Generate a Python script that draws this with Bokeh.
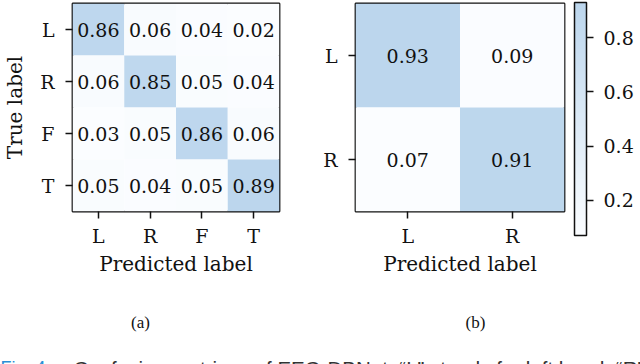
import numpy as np
from bokeh.plotting import figure
from bokeh.models import (FactorRange, Range1d, LinearColorMapper, ColumnDataSource,
                          FixedTicker, Label, ColorBar)
from bokeh.layouts import row, column
from bokeh.core.properties import value
from bokeh.embed import file_html
from bokeh.resources import INLINE

# ---------------- data ----------------
classes_a = ["L", "R", "F", "T"]
matrix_a = [
    [0.86, 0.06, 0.04, 0.02],
    [0.06, 0.85, 0.05, 0.04],
    [0.03, 0.05, 0.86, 0.06],
    [0.05, 0.04, 0.05, 0.89],
]
classes_b = ["L", "R"]
matrix_b = [
    [0.93, 0.09],
    [0.07, 0.91],
]
cbar_ticks = [0.2, 0.4, 0.6, 0.8]
sub_captions = ["(a)", "(b)"]
x_label = "Predicted label"
y_label = "True label"
fig_caption_label = "Fig. 4."
fig_caption_text = "Confusion matrices of EEG-DBNet: \u201cL\u201d stands for left hand, \u201cR\u201d"

# ---------------- style ----------------
SERIF = "DejaVu Serif"
INK = "#111111"
lo = np.array([251, 253, 255])
hi = np.array([188, 214, 237])
palette = ["#%02x%02x%02x" % tuple(int(round(c)) for c in lo + (hi - lo) * t)
           for t in np.linspace(0, 1, 256)]

W_TOTAL, H_TOTAL = 640, 364
H = 290
TOP = 3
FRAME = 208


def style_axes(p):
    for ax in p.axis:
        ax.axis_line_color = None
        ax.major_tick_in = 0
        ax.major_tick_out = 7
        ax.major_tick_line_width = 1.5
        ax.major_tick_line_color = INK
        ax.minor_tick_line_color = None
        ax.major_label_text_font = SERIF
        ax.major_label_text_font_size = "19px"
        ax.major_label_text_color = INK
        ax.axis_label_text_font = SERIF
        ax.axis_label_text_font_size = "20px"
        ax.axis_label_text_font_style = "normal"
        ax.axis_label_text_color = INK
    p.xaxis.major_label_standoff = 6
    p.yaxis.major_label_standoff = 11
    p.xaxis.axis_label_standoff = 2
    p.yaxis.axis_label_standoff = 10


def cm_figure(classes, matrix, width, left, right, show_ylabel):
    vals = np.array(matrix, dtype=float)
    mapper = LinearColorMapper(palette=palette, low=vals.min(), high=vals.max())
    xs, ys, vs, labels = [], [], [], []
    for i, tl in enumerate(classes):
        for j, pl in enumerate(classes):
            xs.append(pl)
            ys.append(tl)
            vs.append(matrix[i][j])
            labels.append("%.2f" % matrix[i][j])
    src = ColumnDataSource(dict(x=xs, y=ys, v=vs, label=labels))
    p = figure(width=width, height=H,
               x_range=FactorRange(*classes), y_range=FactorRange(*classes[::-1]),
               output_backend="svg", toolbar_location=None,
               min_border_left=left, min_border_right=right,
               min_border_top=TOP, min_border_bottom=H - TOP - FRAME)
    p.rect(x="x", y="y", width=1, height=1, source=src,
           fill_color={"field": "v", "transform": mapper}, line_color=None)
    p.text(x="x", y="y", text="label", source=src, text_align="center",
           text_baseline="middle", text_font=value(SERIF), text_font_size="19px",
           text_color=INK)
    p.grid.visible = False
    p.outline_line_color = INK
    p.outline_line_width = 1.8
    p.xaxis.axis_label = x_label
    if show_ylabel:
        p.yaxis.axis_label = y_label
    style_axes(p)
    return p, mapper, vals


pa, map_a, vals_a = cm_figure(classes_a, matrix_a, 287, 71, 8, True)
pb, map_b, vals_b = cm_figure(classes_b, matrix_b, 281, 68, 4, False)

# colorbar holder
pc = figure(width=W_TOTAL - 287 - 281, height=H, x_range=Range1d(0, 1), y_range=Range1d(0, 1),
            output_backend="svg", toolbar_location=None,
            min_border_left=0, min_border_right=0,
            min_border_top=TOP, min_border_bottom=H - TOP - FRAME)
pc.xaxis.visible = False
pc.yaxis.visible = False
pc.grid.visible = False
pc.outline_line_color = None
cb = ColorBar(color_mapper=map_b, ticker=FixedTicker(ticks=cbar_ticks),
              width=12, height=233, location=(6, -24), padding=0,
              major_tick_in=0, major_tick_out=7, major_tick_line_color=INK,
              major_tick_line_width=1.5, minor_tick_line_color=None,
              bar_line_color=INK, bar_line_width=1.5,
              label_standoff=10, major_label_text_font=SERIF,
              major_label_text_font_size="19px", major_label_text_color=INK,
              background_fill_color=None, border_line_color=None)
pc.add_layout(cb, "center")

# caption strip
CH = H_TOTAL - H
pcap = figure(width=W_TOTAL, height=CH, x_range=Range1d(0, W_TOTAL), y_range=Range1d(0, CH),
              output_backend="svg", toolbar_location=None, min_border=0)
pcap.axis.visible = False
pcap.grid.visible = False
pcap.outline_line_color = None
for txt, xc in zip(sub_captions, [140, 475]):
    pcap.add_layout(Label(x=xc, y=CH - 32, text=txt, text_align="center",
                          text_baseline="middle", text_font="Liberation Serif",
                          text_font_size="17px", text_color=INK))
pcap.add_layout(Label(x=0, y=-3, text=fig_caption_label, text_align="left",
                      text_baseline="alphabetic", text_font="Liberation Sans",
                      text_font_size="18px", text_color="#2b8fd6"))
pcap.add_layout(Label(x=73, y=-4, text=fig_caption_text, text_align="left",
                      text_baseline="alphabetic", text_font="Liberation Sans",
                      text_font_size="20.5px", text_color="#333333"))

layout = column(row(pa, pb, pc), pcap)
open("out.html", "w").write(file_html(layout, INLINE))
